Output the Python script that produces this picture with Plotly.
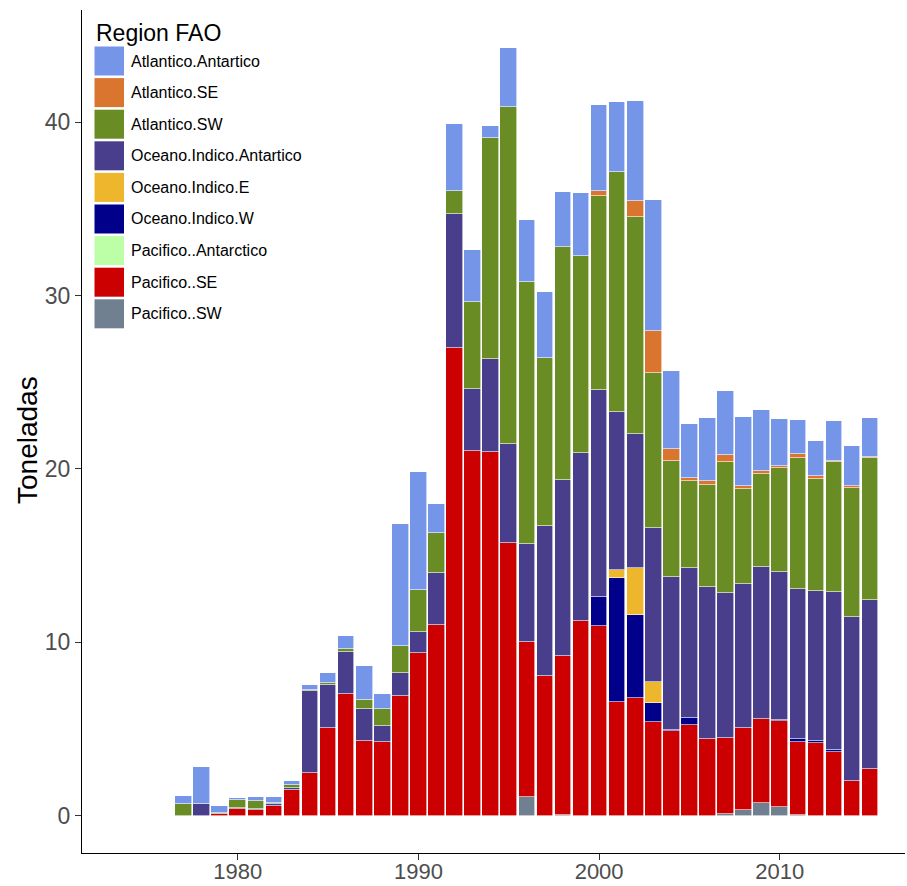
import plotly.graph_objects as go

# Years covered by the landings series
years = list(range(1977, 2016))

# Landings by FAO region (toneladas), one value per year 1977-2015
pacifico_sw = [0, 0, 0, 0, 0, 0, 0, 0, 0, 0, 0, 0, 0, 0, 0, 0, 0, 0, 0, 1.06,
               0, 0.05, 0, 0, 0, 0, 0, 0, 0, 0, 0.1, 0.3, 0.72, 0.49, 0.05, 0, 0, 0, 0]
pacifico_se = [0, 0, 0.1, 0.36, 0.32, 0.58, 1.47, 2.47, 5.03, 6.99, 4.31, 4.25, 6.9, 9.4,
               10.99, 26.97, 21.02, 20.95, 15.7, 8.97, 8.07, 9.17, 11.2, 10.95, 6.57, 6.8,
               5.38, 4.86, 5.25, 4.43, 4.36, 4.74, 4.86, 4.95, 4.19, 4.18, 3.66, 1.97, 2.66]
pacifico_antarctico = [0] * 39
indico_w = [0, 0, 0, 0, 0, 0, 0, 0, 0, 0, 0, 0, 0, 0, 0, 0, 0, 0, 0, 0, 0, 0, 0,
            1.64, 7.15, 4.79, 1.12, 0.07, 0.38, 0, 0, 0, 0, 0.05, 0.19, 0.15, 0.14, 0, 0]
indico_e = [0, 0, 0, 0, 0, 0, 0, 0, 0, 0, 0, 0, 0, 0, 0, 0, 0, 0, 0, 0, 0, 0, 0,
            0, 0.44, 2.7, 1.21, 0, 0, 0, 0, 0, 0, 0, 0, 0, 0, 0, 0]
indico_antartico = [0, 0.65, 0, 0.1, 0.07, 0.08, 0.13, 4.72, 2.49, 2.45, 1.83, 0.93, 1.34,
                    1.2, 3.01, 7.75, 3.61, 5.41, 5.72, 5.63, 8.64, 10.17, 9.72, 11.99, 9.11,
                    7.75, 8.91, 8.83, 8.68, 8.74, 8.38, 8.32, 8.74, 8.58, 8.65, 8.65, 9.08,
                    9.51, 9.8]
atlantico_sw = [0.65, 0, 0.07, 0.45, 0.43, 0.06, 0.14, 0.06, 0.13, 0.17, 0.52, 0.96, 1.54,
                2.41, 2.28, 1.3, 5.0, 12.76, 19.48, 15.14, 9.69, 13.41, 11.36, 11.15, 13.85,
                12.5, 8.91, 6.7, 4.98, 5.92, 7.58, 5.46, 5.39, 6.0, 7.57, 6.42, 7.5, 7.44, 8.17]
atlantico_se = [0, 0, 0, 0, 0, 0, 0, 0, 0, 0, 0, 0, 0, 0, 0, 0, 0, 0, 0, 0, 0, 0, 0,
                0.32, 0, 0.93, 2.42, 0.7, 0.19, 0.19, 0.41, 0.19, 0.19, 0.1, 0.19, 0.17,
                0.09, 0.09, 0.07]
atlantico_antartico = [0.5, 2.15, 0.38, 0.1, 0.28, 0.38, 0.25, 0.29, 0.55, 0.74, 1.96, 0.86,
                       7.07, 6.82, 1.72, 3.86, 3.03, 0.65, 3.39, 3.59, 3.8, 3.19, 3.65, 4.95,
                       4.07, 5.76, 7.55, 4.51, 3.1, 3.65, 3.67, 4.0, 3.49, 2.7, 2.01, 2.04,
                       2.28, 2.32, 2.23]

# Legend order (top of stack first)
region_names = ["Atlantico.Antartico", "Atlantico.SE", "Atlantico.SW",
                "Oceano.Indico.Antartico", "Oceano.Indico.E", "Oceano.Indico.W",
                "Pacifico..Antarctico", "Pacifico..SE", "Pacifico..SW"]
region_values = [atlantico_antartico, atlantico_se, atlantico_sw, indico_antartico,
                 indico_e, indico_w, pacifico_antarctico, pacifico_se, pacifico_sw]
region_colors = ["#7495E8", "#D9752F", "#6A8C24", "#483E8B", "#EEB62C", "#00008B",
                 "#BDFFA6", "#CC0000", "#708090"]

FONT = "Liberation Sans, Arial, Helvetica, sans-serif"

fig = go.Figure()
# Stack from the bottom: last legend entry goes first
for name, vals, col in reversed(list(zip(region_names, region_values, region_colors))):
    fig.add_trace(go.Bar(
        x=years, y=vals, name=name, width=0.92,
        marker=dict(color=col, line=dict(color="white", width=0.6)),
        showlegend=False,
    ))

# Plot area geometry (pixels)
W, H = 907, 886
ML, MR, MT, MB = 82, 2, 10, 33
PW, PH = W - ML - MR, H - MT - MB


def px_x(px):
    return (px - ML) / PW


def px_y(py):
    return (H - MB - py) / PH


# Legend drawn as large swatches with labels
shapes = []
annotations = [dict(text="Region FAO", x=px_x(94), y=px_y(33), xref="paper", yref="paper",
                    xanchor="left", yanchor="middle", showarrow=False,
                    font=dict(family=FONT, size=23, color="black"))]
for i, (name, col) in enumerate(zip(region_names, region_colors)):
    top = 46.5 + 31.6 * i
    shapes.append(dict(type="rect", xref="paper", yref="paper",
                       x0=px_x(94.5), x1=px_x(124), y0=px_y(top + 29), y1=px_y(top),
                       fillcolor=col, line=dict(width=0), layer="above"))
    annotations.append(dict(text=name, x=px_x(129), y=px_y(top + 14.5), xref="paper",
                            yref="paper", xanchor="left", yanchor="middle", showarrow=False,
                            font=dict(family=FONT, size=16, color="black")))

# Y axis title
annotations.append(dict(text="Toneladas", x=px_x(27), y=px_y(440), xref="paper", yref="paper",
                        xanchor="center", yanchor="middle", textangle=-90, showarrow=False,
                        font=dict(family=FONT, size=28, color="black")))

fig.update_layout(
    width=W, height=H,
    margin=dict(l=ML, r=MR, t=MT, b=MB, pad=0),
    barmode="stack", bargap=0,
    plot_bgcolor="white", paper_bgcolor="white",
    font=dict(family=FONT),
    shapes=shapes, annotations=annotations,
    showlegend=False,
)
fig.update_xaxes(
    range=[1971.38, 2016.93], tickvals=[1980, 1990, 2000, 2010],
    showline=True, linecolor="black", linewidth=1.3, mirror=False,
    ticks="outside", ticklen=6, tickcolor="#333333", tickwidth=1.2,
    ticklabelstandoff=-8,
    showgrid=False, zeroline=False, automargin=False,
    tickfont=dict(family=FONT, size=22, color="#4D4D4D"),
)
fig.update_yaxes(
    range=[-2.16, 46.48], tickvals=[0, 10, 20, 30, 40],
    showline=True, linecolor="black", linewidth=1.3,
    ticks="outside", ticklen=6, tickcolor="#333333", tickwidth=1.2,
    showgrid=False, zeroline=False, automargin=False,
    tickfont=dict(family=FONT, size=23, color="#4D4D4D"),
)

fig.write_html("out.html")
